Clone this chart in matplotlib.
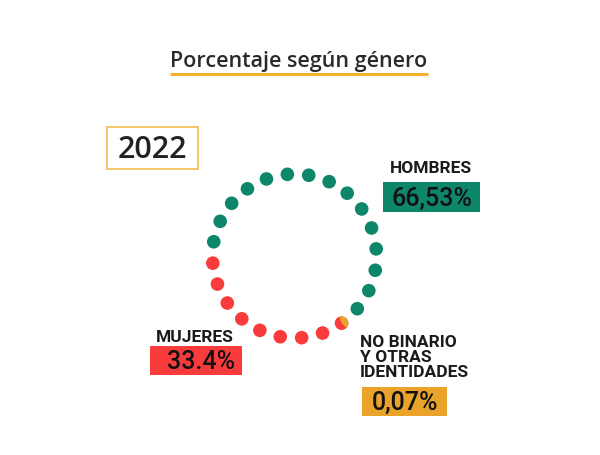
import numpy as np
import matplotlib
matplotlib.use("Agg")
import matplotlib.pyplot as plt
from matplotlib.patches import Circle, Wedge, Rectangle

# data
categories = ["HOMBRES", "MUJERES", "NO BINARIO\nY OTRAS\nIDENTIDADES"]
labels = ["66,53%", "33.4%", "0,07%"]
colors = ["#0e866a", "#f93b3b", "#e9a22a"]
# dots on the ring, clockwise from the top: hombres (right side), shared dot, mujeres, hombres (left side)
dot_groups = ["h"] * 10 + ["mix"] + ["m"] * 8 + ["h"] * 5
year = "2022"
title = "Porcentaje según género"

fig = plt.figure(figsize=(6, 4.56), dpi=100)
ax = fig.add_axes([0, 0, 1, 1])
ax.set_xlim(0, 600)
ax.set_ylim(456, 0)
ax.set_aspect("equal")
ax.axis("off")

# title + underline
ax.text(299, 61, title, ha="center", va="center", fontsize=15.5,
        family="Open Sans", weight="semibold", color="#2a2a2a")
ax.plot([170, 428], [75, 75], color="#f2b230", lw=2.2, solid_capstyle="butt")

# year box
ax.add_patch(Rectangle((107, 128), 91, 42, fill=False, ec="#f5c060", lw=1.3))
ax.text(152.5, 150, year, ha="center", va="center", fontsize=22,
        family="Open Sans", weight="semibold", color="#222222")

# dot ring
cx, cy, r = 294.5, 257, 82
n = len(dot_groups)
dr = 6.8
for i, g in enumerate(dot_groups):
    ang = np.deg2rad(-5 + i * 360 / n)
    x = cx + r * np.sin(ang)
    y = cy - r * np.cos(ang)
    if g == "h":
        ax.add_patch(Circle((x, y), dr, color=colors[0], lw=0))
    elif g == "m":
        ax.add_patch(Circle((x, y), dr, color=colors[1], lw=0))
    else:
        ax.add_patch(Circle((x, y), dr, color=colors[1], lw=0))
        # y axis inverted: wedge angles measured in data coords
        ax.add_patch(Wedge((x, y), dr, 250, 45, color=colors[2], lw=0))

# labels
font = "Roboto"
ax.text(431, 169, categories[0], ha="center", va="center", fontsize=12.5,
        family=font, weight="bold", color="#1a1a1a")
ax.add_patch(Rectangle((383, 183), 97, 30, color=colors[0], lw=0))
ax.text(432, 198.5, labels[0], ha="center", va="center", fontsize=18,
        family=font, weight="medium", color="#111111")

ax.text(195, 338, categories[1], ha="center", va="center", fontsize=12.5,
        family=font, weight="bold", color="#1a1a1a")
ax.add_patch(Rectangle((150, 347), 92, 29, color=colors[1], lw=0))
ax.text(201, 362, labels[1], ha="center", va="center", fontsize=18,
        family=font, weight="medium", color="#111111")

ax.text(360, 357.5, categories[2], ha="left", va="center", fontsize=12.5,
        family=font, weight="bold", color="#1a1a1a", linespacing=1.0)
ax.add_patch(Rectangle((362, 388), 85, 29, color=colors[2], lw=0))
ax.text(405, 403, labels[2], ha="center", va="center", fontsize=18,
        family=font, weight="medium", color="#111111")

fig.savefig("out.png", dpi=100, facecolor="white")
